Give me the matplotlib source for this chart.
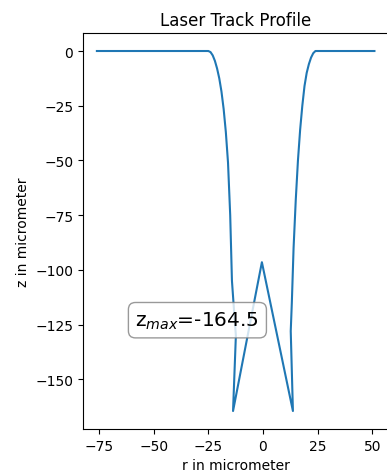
import matplotlib
matplotlib.use("Agg")
import matplotlib.pyplot as plt

r_um = [-76, -25, -24, -23, -22, -21, -20, -19, -18, -17, -16, -15, -14.2, -13, -12.4,
        -13.7, -0.5, 13.7,
        12.7, 13.2, 14, 15, 16, 17, 18, 19, 20, 21, 22, 23, 24, 51]
z_um = [0, 0, -0.5, -2, -4.5, -8, -12.5, -18.5, -26.5, -37, -51, -75, -105, -122, -130,
        -164.5, -96.5, -164.5,
        -128, -115, -90, -68, -50, -36, -25, -16, -10, -6, -3, -1, 0, 0]
z_max = -164.5

fig = plt.figure(figsize=(3.87, 4.77), dpi=100)
ax = fig.add_axes([0.2145, 0.0985, 1.0034 - 0.2145, 0.9287 - 0.0985])
ax.plot(r_um, z_um, color="#1f77b4", linewidth=1.5)
ax.set_title("Laser Track Profile", fontsize=12)
ax.set_xlabel("r in micrometer")
ax.set_ylabel("z in micrometer")
ax.set_xticks([-75, -50, -25, 0, 25, 50])
ax.set_yticks([0, -25, -50, -75, -100, -125, -150])
ax.text(-30, -123, r"z$_{max}$=" + f"{z_max}", fontsize=14.5, ha="center", va="center",
        bbox=dict(boxstyle="round,pad=0.35", facecolor="white", edgecolor="gray", alpha=0.8))
fig.savefig("out.png", dpi=100)
